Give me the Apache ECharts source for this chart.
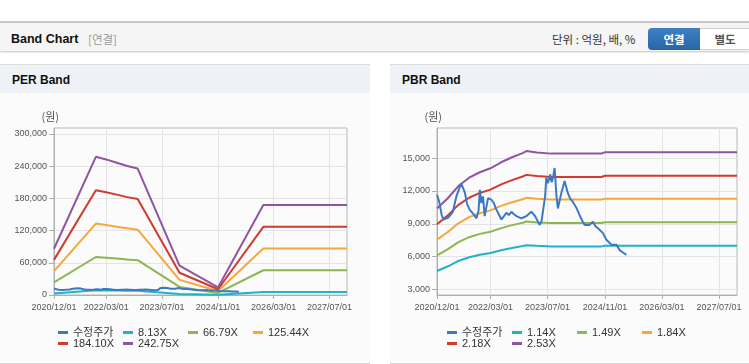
<!DOCTYPE html>
<html><head><meta charset="utf-8">
<script src="https://cdn.jsdelivr.net/npm/echarts@6/dist/echarts.min.js"></script>
<style>
html,body{margin:0;padding:0}
body{width:749px;height:364px;overflow:hidden;background:#fff;position:relative;font-family:"Liberation Sans","Noto Sans CJK KR",sans-serif}
.abs{position:absolute}
#topline{left:0;top:21px;width:749px;height:2px;background:#c9c9c9}
#hdr{left:0;top:23px;width:749px;height:28px;background:#f5f5f5;box-shadow:0 1px 2px rgba(0,0,0,0.25)}
#hdrTitle{left:11px;top:31px;font-size:12.5px;font-weight:bold;color:#111;line-height:16px}
#hdrSub{left:88px;top:31px;font-size:11.5px;color:#9a9a9a;line-height:16px;font-family:"Noto Sans CJK KR",sans-serif}
#unit{left:552px;top:31px;font-size:11.5px;color:#333;line-height:16px;font-family:"Noto Sans CJK KR",sans-serif}
#btn1{left:648px;top:28px;width:52px;height:22px;border-radius:4px 0 0 4px;background:linear-gradient(#3f80c4,#2865a8);color:#fff;font-weight:bold;font-size:11.5px;text-align:center;line-height:22px;font-family:"Noto Sans CJK KR",sans-serif}
#btn2{left:700px;top:28px;width:50px;height:20px;border:1px solid #cfcfcf;border-left:none;background:#fff;color:#555;font-weight:bold;font-size:11.5px;text-align:center;line-height:20px;font-family:"Noto Sans CJK KR",sans-serif}
.panel{top:64px;height:298px;background:#fbfbfb;border-top:1px solid #dcdcdc;border-bottom:1px solid #d6d6d6}
.ptitle{top:65px;height:28px;background:#eef1f6}
.ptext{top:72px;font-size:12px;font-weight:bold;color:#111;line-height:16px}
#chart{left:0;top:0;width:749px;height:364px}
</style></head><body>
<div id="topline" class="abs"></div>
<div id="hdr" class="abs"></div>
<div id="hdrTitle" class="abs">Band Chart</div>
<div id="hdrSub" class="abs">[연결]</div>
<div id="unit" class="abs">단위 : 억원, 배, %</div>
<div id="btn1" class="abs">연결</div>
<div id="btn2" class="abs">별도</div>
<div class="abs panel" style="left:0;width:370px"></div>
<div class="abs panel" style="left:390px;width:359px"></div>
<div class="abs ptitle" style="left:0;width:370px"></div>
<div class="abs ptitle" style="left:390px;width:359px"></div>
<div class="abs ptext" style="left:12px">PER Band</div>
<div class="abs ptext" style="left:402px">PBR Band</div>
<div id="chart" class="abs"></div>
<script>
// ---- data ----
const xMin = '2020/12/01';
const xMax = '2027/12/01';
const xTickLabels = ['2020/12/01','2022/03/01','2023/07/01','2024/11/01','2026/03/01','2027/07/01'];
const perTicks = [0, 60000, 120000, 180000, 240000, 300000];
const pbrTicks = [3000, 6000, 9000, 12000, 15000];

const priceName = '수정주가';
const priceDates = ['2020/12/01','2020/12/20','2021/01/10','2021/01/25','2021/02/20','2021/03/10','2021/04/15','2021/05/15','2021/06/25','2021/07/25','2021/08/15','2021/09/05','2021/10/15','2021/11/02','2021/11/20','2021/12/01','2021/12/14','2021/12/28','2022/01/11','2022/02/09','2022/03/09','2022/03/30','2022/04/21','2022/05/10','2022/06/03','2022/06/25','2022/07/15','2022/08/05','2022/08/27','2022/09/15','2022/10/09','2022/11/20','2022/12/10','2023/01/01','2023/02/12','2023/03/10','2023/03/27','2023/04/24','2023/05/10','2023/05/25','2023/06/10','2023/06/20','2023/07/04','2023/07/24','2023/08/05','2023/08/16','2023/08/30','2023/09/15','2023/09/27','2023/10/26','2023/11/23','2023/12/21','2024/01/10','2024/02/02','2024/03/01','2024/03/30','2024/04/20','2024/05/12','2024/06/23','2024/07/21','2024/08/10','2024/09/02','2024/10/15','2024/11/10','2024/11/26','2024/12/25','2025/02/06','2025/03/06','2025/04/01','2025/05/02'];
const priceValues = [11650,11000,9800,9400,9500,9600,10100,11500,12700,11900,10800,10300,9800,9500,10200,12100,10900,11500,9700,11350,11200,10900,10300,9900,9400,9700,10000,9800,10100,9900,9700,9500,9600,9700,10100,9800,9500,8900,9200,9100,11500,13200,12700,13500,12800,13200,14100,11500,10400,11800,12900,11800,11300,11000,10500,9800,9300,8900,8900,9200,8800,8600,8150,7600,7400,7100,7100,6600,6400,6170];

const perNames = ['8.13X','66.79X','125.44X','184.10X','242.75X'];
const perDates = ['2020/12/01','2021/12/01','2022/03/01','2022/06/01','2022/09/01','2022/12/01','2023/12/01','2024/11/01','2025/12/01','2027/12/01'];
const per813  = [2890, 8620, 8460, 8250, 8050, 7890, 1830, 470, 5610, 5610];
const per6679 = [23700, 70800, 69500, 67800, 66100, 64800, 15000, 3900, 46100, 46100];
const per12544 = [44500, 133000, 130500, 127300, 124200, 121700, 28200, 7300, 86600, 86600];
const per18410 = [65400, 195100, 191500, 186900, 182300, 178600, 41400, 10700, 127000, 127000];
const per24275 = [86200, 257300, 252500, 246400, 240300, 235500, 54600, 14100, 167500, 167500];

const pbrNames = ['1.14X','1.49X','1.84X','2.18X','2.53X'];
const pbrDates = ['2020/12/01','2021/03/01','2021/06/01','2021/09/01','2021/12/01','2022/03/01','2022/06/01','2022/09/01','2022/12/01','2023/01/01','2023/04/01','2023/08/01','2024/10/01','2024/11/01','2027/12/01'];
const pbr114 = [4690, 5100, 5610, 5950, 6180, 6340, 6590, 6790, 6970, 7050, 6990, 6940, 6940, 7000, 7000];
const pbr149 = [6120, 6660, 7330, 7780, 8080, 8280, 8610, 8880, 9100, 9210, 9130, 9070, 9070, 9150, 9150];
const pbr184 = [7560, 8230, 9050, 9610, 9970, 10230, 10640, 10970, 11240, 11370, 11280, 11210, 11210, 11300, 11300];
const pbr218 = [8960, 9750, 10730, 11380, 11820, 12120, 12600, 12990, 13320, 13470, 13360, 13280, 13280, 13390, 13390];
const pbr253 = [10400, 11310, 12450, 13210, 13710, 14070, 14620, 15080, 15460, 15640, 15510, 15410, 15410, 15530, 15530];

const colors = ['#3b79c5','#1fb3c8','#8cb650','#f5a73a','#d03a2f','#8e55a0'];

// ---- build ----
function ts(s){ const p = s.split('/').map(Number); return Date.UTC(p[0], p[1]-1, p[2]); }
function pad(n){ return (n<10?'0':'')+n; }
function fmtDate(v){ const d = new Date(v); return d.getUTCFullYear()+'/'+pad(d.getUTCMonth()+1)+'/'+pad(d.getUTCDate()); }
function pairs(dates, vals){ return dates.map((d,i)=>[ts(d), vals[i]]); }

const xTickTs = xTickLabels.map(ts);
const axisColor = '#aeaeae';
const labelStyle = {fontSize: 9, color: '#555', fontFamily: 'Liberation Sans, Arial, sans-serif'};

function xAxis(gi){
  return {type:'value', gridIndex:gi, min:ts(xMin), max:ts(xMax),
    axisLine:{show:true, lineStyle:{color:axisColor}},
    axisTick:{show:true, customValues:xTickTs, length:4, lineStyle:{color:axisColor}},
    axisLabel:Object.assign({customValues:xTickTs, formatter:fmtDate, margin:8, hideOverlap:false}, labelStyle),
    splitLine:{show:true, lineStyle:{color:'#e4e4e4'}}};
}
function yAxis(gi, min, max, ticks){
  return {type:'value', gridIndex:gi, min:min, max:max,
    name:'(원)', nameLocation:'end', nameGap:6,
    nameTextStyle:{fontSize:11, color:'#555', fontFamily:'Noto Sans CJK KR, sans-serif', align:'right', padding:[0,-5,0,0]},
    axisLine:{show:true, lineStyle:{color:axisColor}},
    axisTick:{show:true, customValues:ticks, length:5, lineStyle:{color:axisColor}},
    axisLabel:Object.assign({customValues:ticks, margin:7, formatter:(v)=>v.toLocaleString('en-US')}, labelStyle),
    splitLine:{show:true, lineStyle:{color:'#e4e4e4'}}};
}
function legend(left, names){
  return {left:left, top:322, width:262, itemGap:0, icon:'rect', itemWidth:10, itemHeight:3,
    selectedMode:false, data:names, formatter:'{a|{name}}',
    textStyle:{color:'#333', fontSize:11, fontFamily:'Liberation Sans, Noto Sans CJK KR, sans-serif',
      rich:{a:{width:50, fontSize:11, lineHeight:15, color:'#333', fontFamily:'Liberation Sans, Noto Sans CJK KR, sans-serif'}}}};
}
function line(name, data, xi, color, z){
  return {type:'line', name:name, data:data, xAxisIndex:xi, yAxisIndex:xi, showSymbol:false, symbol:'none',
    lineStyle:{width:2, color:color}, itemStyle:{color:color}, z:z, animation:false};
}

const perVals = [per813, per6679, per12544, per18410, per24275];
const pbrVals = [pbr114, pbr149, pbr184, pbr218, pbr253];
const series = [];
perNames.forEach((n,i)=>series.push(line(n, pairs(perDates, perVals[i]), 0, colors[i+1], 2)));
series.push(line(priceName, pairs(priceDates, priceValues), 0, colors[0], 3));
pbrNames.forEach((n,i)=>series.push(line(n, pairs(pbrDates, pbrVals[i]), 1, colors[i+1], 2)));
series.push(line(priceName, pairs(priceDates, priceValues), 1, colors[0], 3));

const chart = echarts.init(document.getElementById('chart'), null, {renderer:'canvas'});
chart.setOption({
  animation:false,
  backgroundColor:'transparent',
  grid:[
    {left:54, top:128, width:293, height:167, show:true, borderColor:'#b8b8b8', borderWidth:1},
    {left:437, top:128, width:300, height:167, show:true, borderColor:'#b8b8b8', borderWidth:1}
  ],
  xAxis:[xAxis(0), xAxis(1)],
  yAxis:[yAxis(0, 0, 311000, perTicks), yAxis(1, 2500, 17750, pbrTicks)],
  legend:[legend(53, [priceName].concat(perNames)), legend(442, [priceName].concat(pbrNames))],
  series:series
});
</script>
</body></html>
